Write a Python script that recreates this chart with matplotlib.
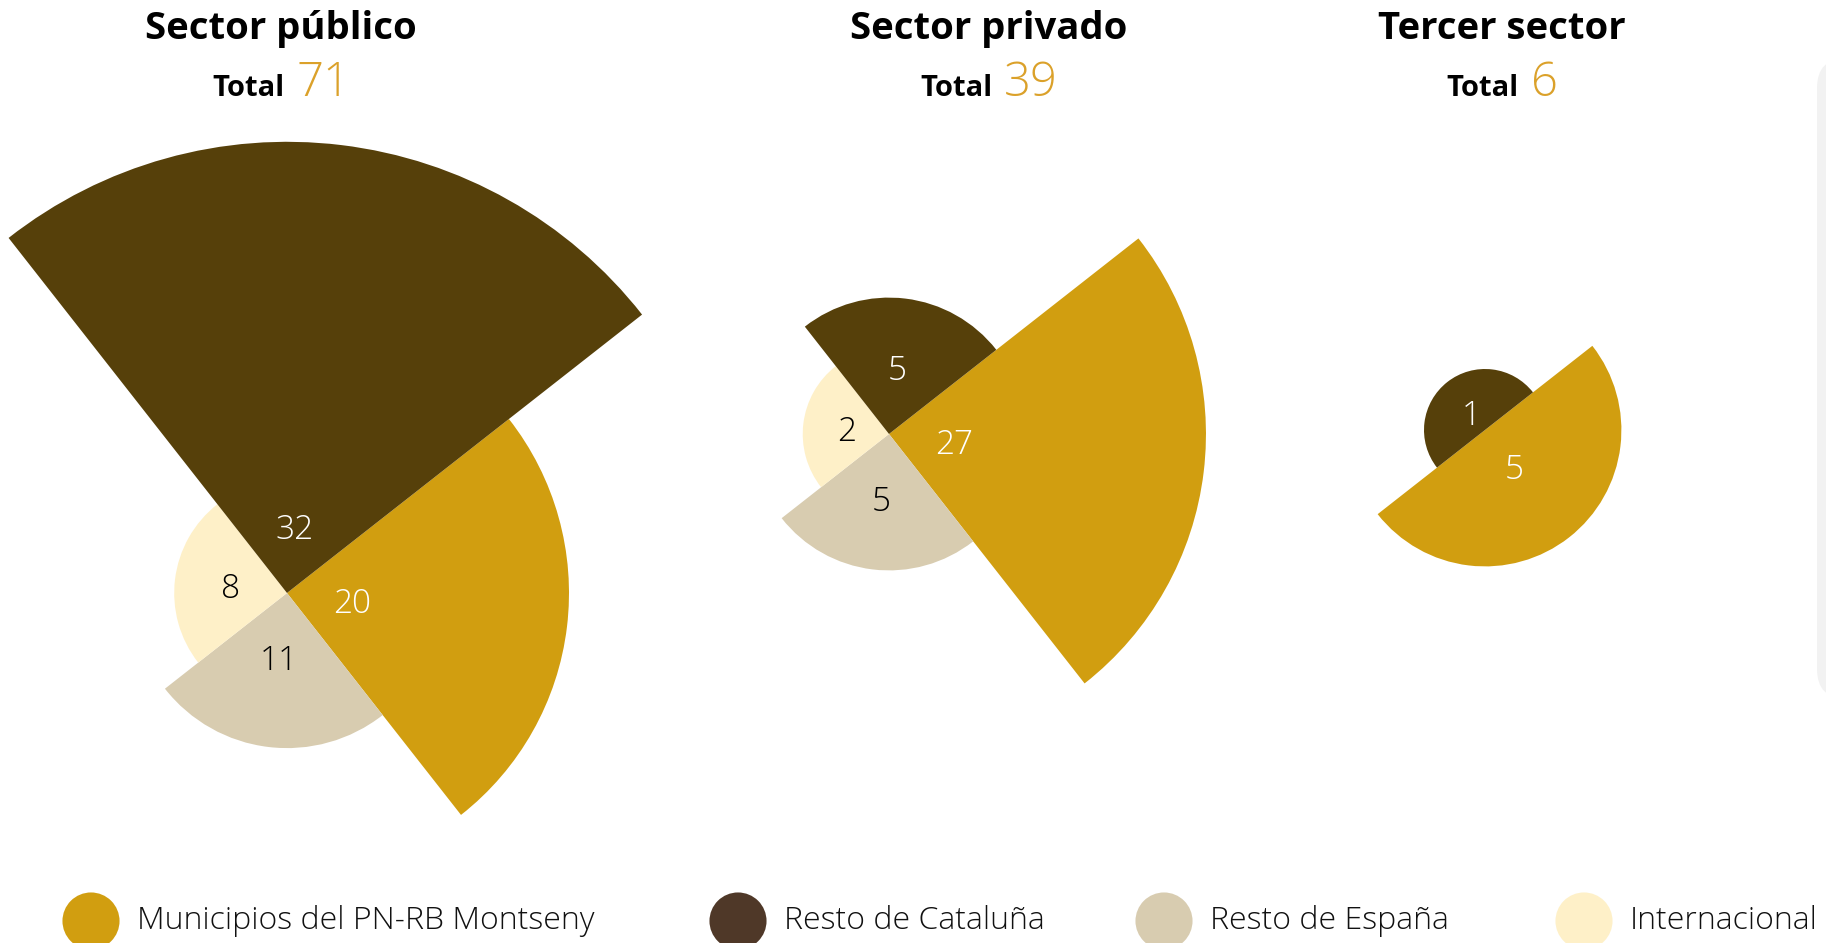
#IMPORTS
import numpy as np
import matplotlib
matplotlib.use('Agg')
import matplotlib.pyplot as plt
from matplotlib.patches import Wedge, FancyBboxPatch

#DATA
panels = ['Sector público', 'Sector privado', 'Tercer sector']
totals = [71, 39, 6]
categories = ['Municipios del PN-RB Montseny', 'Resto de Cataluña', 'Resto de España', 'Internacional']
publico = [20, 32, 11, 8]
privado = [27, 5, 5, 2]
tercer = [5, 1, 0, 0]

#STYLE
wedge_colors = ['#d19e10', '#56400a', '#d8ccb0', '#fef0c8']
legend_colors = ['#d19e10', '#4f3828', '#d8ccb0', '#fef0c8']
label_colors = ['white', 'white', 'black', 'black']
gold = '#dba12a'
# slice order going clockwise from the start angle
pie_order = [0, 2, 3, 1]
start_angle = 38.1

bold_font = ['Open Sans', 'DejaVu Sans']
light_font = ['Open Sans', 'DejaVu Sans']

W, H = 1826, 943
fig = plt.figure(figsize=(W / 100, H / 100), dpi=100)
ax = fig.add_axes([0, 0, 1, 1])
ax.set_xlim(0, W)
ax.set_ylim(0, H)
ax.axis('off')

#radius scales (px), one per panel
def lin_scale(v):
    return 14.1 * v

def sqrt_scale(v):
    return 61.0 * np.sqrt(v)

layout = [
    # chart centre (image px), title centre x, radius scale
    ((287, 593), 281, lin_scale),
    ((889, 434), 989, sqrt_scale),
    ((1485, 430), 1502, sqrt_scale),
]

def draw_panel(values, centre, scale):
    cx, cy = centre[0], H - centre[1]
    idx = [i for i in pie_order if values[i] > 0]
    span = 360.0 / len(idx)
    for k, i in enumerate(idx):
        t2 = start_angle - k * span
        t1 = t2 - span
        r = scale(values[i])
        ax.add_patch(Wedge((cx, cy), r, t1, t2, facecolor=wedge_colors[i],
                           edgecolor='none', antialiased=True))
        mid = np.deg2rad((t1 + t2) / 2)
        if len(idx) == 4:
            d = min(0.5 * r, 66)
        else:
            d = 0.35 * r
        ax.text(cx + d * np.cos(mid), cy + d * np.sin(mid) - 3, str(values[i]),
                ha='center', va='center', fontsize=24, fontweight='light',
                family=light_font, color=label_colors[i])

fig.canvas.draw()
renderer = fig.canvas.get_renderer()

for name, total, values, (centre, tx, scale) in zip(panels, totals, [publico, privado, tercer], layout):
    draw_panel(values, centre, scale)
    ax.text(tx, H - 29, name, ha='center', va='center', fontsize=27.5,
            fontweight='bold', family=bold_font, color='black')
    # "Total" + number, centred as a group under the title
    t1 = ax.text(0, H - 96, 'Total', ha='left', va='baseline', fontsize=21,
                 fontweight='bold', family=bold_font, color='black')
    t2 = ax.text(0, H - 96, str(total), ha='left', va='baseline', fontsize=34,
                 fontweight='light', family=light_font, color=gold)
    w1 = t1.get_window_extent(renderer).width
    w2 = t2.get_window_extent(renderer).width
    gap = 12
    x0 = tx - (w1 + gap + w2) / 2
    t1.set_x(x0)
    t2.set_x(x0 + w1 + gap)

#side panel (partially visible)
ax.add_patch(FancyBboxPatch((1817, H - 699), 60, 641,
                            boxstyle='round,pad=0,rounding_size=30',
                            facecolor='#f2f2f2', edgecolor='none', clip_on=False))

#LEGEND
legend_x = [91, 738, 1164, 1584]
legend_y = H - 921
for x, c, lab in zip(legend_x, legend_colors, categories):
    ax.scatter([x], [legend_y], s=57 ** 2 * 0.52, color=c, edgecolor='none', clip_on=False)
    ax.text(x + 46, legend_y, lab, ha='left', va='center', fontsize=23,
            fontweight='light', family=light_font, color='#111111')

plt.savefig('out.png', dpi=100)
plt.close()
